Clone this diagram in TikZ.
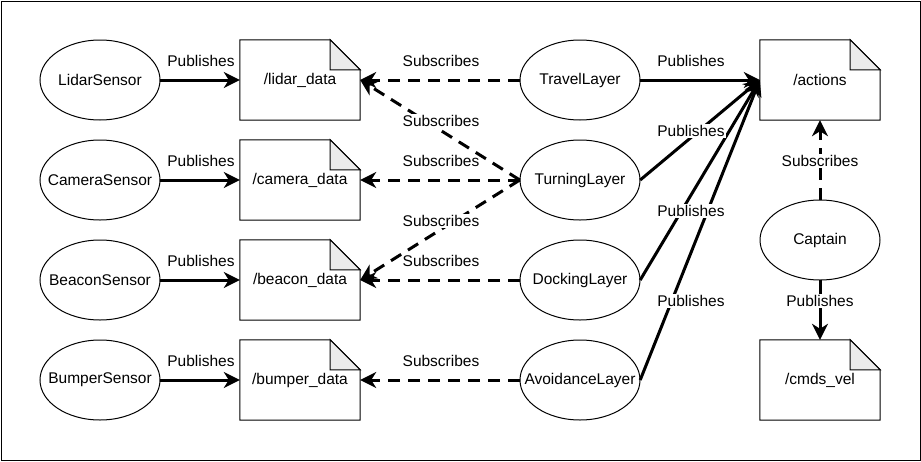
\documentclass[tikz,border=0pt]{standalone}
\usepackage{fontspec}
\setmainfont{Liberation Sans}
\usetikzlibrary{arrows.meta,positioning}
\definecolor{foldgray}{HTML}{EBEBEB}
\tikzset{
  x=1pt, y=-1pt,
  box/.style={shape=rectangle, draw=none, minimum width=120pt, minimum height=80pt, inner sep=0pt,
    font=\fontsize{15.5pt}{18pt}\selectfont},
  outline/.style={draw=black, line width=1pt},
  lbl/.style={fill=white, inner sep=1pt, font=\fontsize{15.5pt}{18pt}\selectfont},
  tip/.style={-{Stealth[length=16pt,width=16pt,inset=5pt]}},
  pub/.style={tip, line width=3pt},
  sub/.style={tip, line width=3pt, dash pattern=on 12pt off 8pt},
}
\newcommand{\ellnode}[3]{%
  \node[box] (#1) at (#2) {#3};
  \draw[outline] (#1.center) ellipse [x radius=60pt, y radius=40pt];
}
\newcommand{\docnode}[3]{%
  \node[box] (#1) at (#2) {#3};
  \draw[outline, line join=miter] (#1.north west) -- ([xshift=-30pt]#1.north east) -- ([yshift=-30pt]#1.north east)
     -- (#1.south east) -- (#1.south west) -- cycle;
  \draw[outline, fill=foldgray, line join=miter] ([xshift=-30pt]#1.north east) -- ([xshift=-30pt,yshift=-30pt]#1.north east)
     -- ([yshift=-30pt]#1.north east) -- cycle;
}
\begin{document}
\begin{tikzpicture}
\useasboundingbox (0,0) rectangle (921,461);
\draw[line width=1pt] (1,1) rectangle (920,460);

% sensors
\ellnode{lidar}{100,80}{LidarSensor}
\ellnode{camera}{100,180}{CameraSensor}
\ellnode{beacon}{100,280}{BeaconSensor}
\ellnode{bumper}{100,380}{BumperSensor}

% topics
\docnode{dlidar}{300,80}{/lidar\_data}
\docnode{dcamera}{300,180}{/camera\_data}
\docnode{dbeacon}{300,280}{/beacon\_data}
\docnode{dbumper}{300,380}{/bumper\_data}

% layers
\ellnode{travel}{580,80}{TravelLayer}
\ellnode{turning}{580,180}{TurningLayer}
\ellnode{docking}{580,280}{DockingLayer}
\ellnode{avoid}{580,380}{AvoidanceLayer}

% right column
\docnode{actions}{820,80}{/actions}
\ellnode{captain}{820,240}{Captain}
\docnode{cmds}{820,380}{/cmds\_vel}

% sensor publishes
\draw[pub] (lidar.east) -- (dlidar.west);
\draw[pub] (camera.east) -- (dcamera.west);
\draw[pub] (beacon.east) -- (dbeacon.west);
\draw[pub] (bumper.east) -- (dbumper.west);

% layer subscribes
\draw[sub] (travel.west) -- (dlidar.east);
\draw[sub] (turning.west) -- (dcamera.east);
\draw[sub] (turning.west) -- (dbeacon.east);
\draw[sub] (docking.west) -- (dbeacon.east);
\draw[sub] (avoid.west) -- (dbumper.east);

% layer publishes
\draw[pub] (travel.east) -- (actions.west);
\draw[pub] (turning.east) -- (actions.west);
\draw[pub] (docking.east) -- (actions.west);
\draw[pub] (avoid.east) -- (actions.west);

% captain
\draw[sub] (captain.north) -- (actions.south);
\draw[pub] (captain.south) -- (cmds.north);

% labels
\node[lbl] (l1) at (201,61) {Publishes};
\node[lbl] (l2) at (201,161) {Publishes};
\node[lbl] (l3) at (201,261) {Publishes};
\node[lbl] (l4) at (201,361) {Publishes};
\node[lbl] (s1) at (441,61) {Subscribes};
\node[lbl] (s3) at (441,161) {Subscribes};
\node[lbl] (s4) at (441,221) {Subscribes};
\node[lbl] (s5) at (441,261) {Subscribes};
\node[lbl] (s6) at (441,361) {Subscribes};
\node[lbl] (p1) at (691,61) {Publishes};
\node[lbl] (p2) at (691,131) {Publishes};
\node[lbl] (p3) at (691,211) {Publishes};
\node[lbl] (p4) at (691,301) {Publishes};
\node[lbl] (c1) at (820,161) {Subscribes};
\node[lbl] (c2) at (820,301) {Publishes};

\draw[sub] (turning.west) -- (dlidar.east);
\node[lbl] (s2) at (441,121) {Subscribes};
\end{tikzpicture}
\end{document}
